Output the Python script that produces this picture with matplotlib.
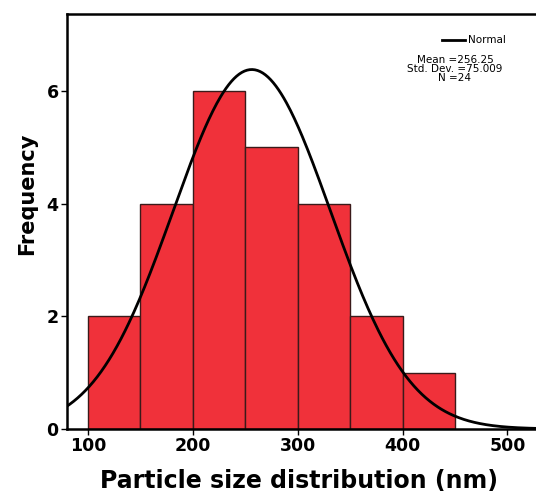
import numpy as np
import matplotlib.pyplot as plt

# histogram data (bin edges in nm, counts)
bin_edges = [100, 150, 200, 250, 300, 350, 400, 450]
counts = [2, 4, 6, 5, 4, 2, 1]

# stats shown in the legend box
mean = 256.25
std = 75.009
n = 24

plt.rcParams['font.family'] = ['DejaVu Sans']

fig = plt.figure(figsize=(5.36, 4.97), dpi=100)
ax = fig.add_axes([0.125, 0.137, 0.892, 0.835])

widths = np.diff(bin_edges)
ax.bar(bin_edges[:-1], counts, width=widths, align='edge',
       color='#F0313A', edgecolor='#3a1a1a', linewidth=1.0)

# normal curve scaled to the histogram
x = np.linspace(60, 560, 400)
bw = widths[0]
y = n * bw / (std * np.sqrt(2 * np.pi)) * np.exp(-0.5 * ((x - mean) / std) ** 2)
ax.plot(x, y, color='black', linewidth=2.0, label='Normal')

ax.set_xlim(80, 536)
ax.set_ylim(0, 7.37)
ax.set_xticks([100, 200, 300, 400, 500])
ax.set_yticks([0, 2, 4, 6])
ax.tick_params(axis='both', labelsize=12.5, length=4, width=1, pad=2)
for lab in ax.get_xticklabels() + ax.get_yticklabels():
    lab.set_fontweight('bold')
for s in ax.spines.values():
    s.set_linewidth(1.8)

ax.set_xlabel('Particle size distribution (nm)', fontsize=17, fontweight='bold')
ax.xaxis.set_label_coords(0.485, -0.125)
ax.xaxis.label.set_va('center')
ax.set_ylabel('Frequency', fontsize=15, fontweight='bold')
ax.yaxis.set_label_coords(-0.084, 0.566)
ax.yaxis.label.set_va('center')

# legend + stats
fig.lines.append(plt.Line2D([442 / 536, 465 / 536], [1 - 40 / 497, 1 - 40 / 497],
                            color='black', linewidth=2.0, transform=fig.transFigure))
fig.text(468 / 536, 1 - 40 / 497, 'Normal', fontsize=7.5, va='center', ha='left')
fig.text(455 / 536, 1 - 69 / 497,
         'Mean =%.2f\nStd. Dev. =%.3f\nN =%d' % (mean, std, n),
         fontsize=7.5, ha='center', va='center', linespacing=0.9)

plt.savefig('out.png', dpi=100)
